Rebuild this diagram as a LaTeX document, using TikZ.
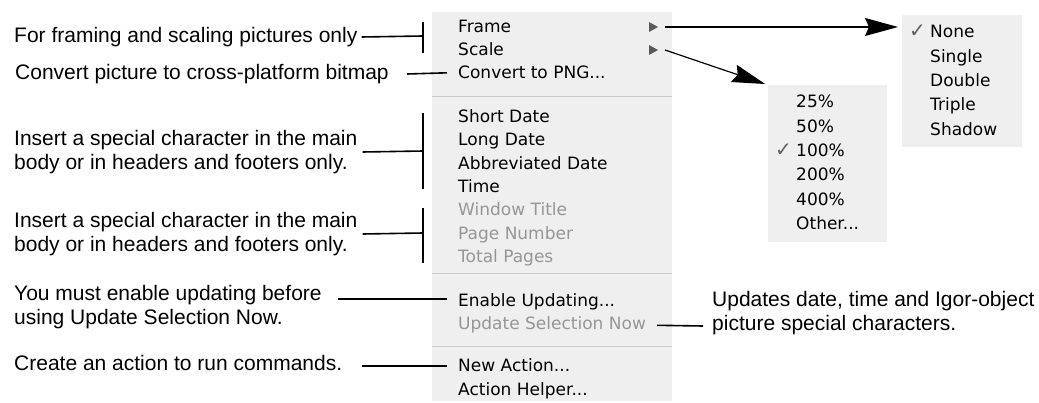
\documentclass[tikz,border=0pt]{standalone}
\usepackage{fontspec}
\setmainfont{Liberation Sans}
\newfontfamily\menufont{DejaVu Sans}
\usetikzlibrary{arrows.meta}
\definecolor{menubg}{RGB}{239,239,239}
\definecolor{menuoff}{RGB}{150,150,150}
\definecolor{menusep}{RGB}{200,200,200}
\definecolor{tickgray}{RGB}{95,95,95}

\begin{document}
\begin{tikzpicture}[x=1pt,y=-1pt,
	note/.style={anchor=west,inner sep=0pt,align=left,font=\fontsize{21}{24}\selectfont},
	item/.style={anchor=base west,inner xsep=11pt,inner ysep=0pt,font=\menufont\fontsize{17}{20}\selectfont},
	off/.style={item,text=menuoff},
	sub/.style={anchor=base west,inner sep=0pt,font=\menufont\fontsize{17}{20}\selectfont},
	tick/.style={anchor=base west,inner sep=0pt,text=tickgray,font=\menufont\fontsize{20}{20}\selectfont},
	panel/.style={fill=menubg,anchor=north west,inner sep=0pt},
	pointer/.style={line width=1.6pt},
	bigarrow/.style={-{Stealth[length=33pt,width=18pt,inset=4pt]}}]
	\useasboundingbox (0,0) rectangle (1039,403);

	% main menu
	\fill[menubg] (432,12) rectangle (672,401);
	\draw[menusep] (432,96) -- (672,96);
	\draw[menusep] (432,273) -- (672,273);
	\draw[menusep] (432,346) -- (672,346);

	\node[item] (frame) at (447,33) {Frame};
	\node[item] (scale) at (447,56) {Scale};
	\node[item] (png) at (447,79) {Convert to PNG...};
	\node[item] (short) at (447,123) {Short Date};
	\node[item] (long) at (447,146) {Long Date};
	\node[item] (abbr) at (447,170) {Abbreviated Date};
	\node[item] (time) at (447,193) {Time};
	\node[off] (wtitle) at (447,216) {Window Title};
	\node[off] (pnum) at (447,240) {Page Number};
	\node[off] (tpages) at (447,263) {Total Pages};
	\node[item] (enable) at (447,307) {Enable Updating...};
	\node[off] (update) at (447,330) {Update Selection Now};
	\node[item] (newact) at (447,371) {New Action...};
	\node[item] (helper) at (447,395) {Action Helper...};

	\fill[black!65] (649,22) -- (658,27) -- (649,32) -- cycle;
	\fill[black!65] (649,45) -- (658,50) -- (649,55) -- cycle;
	\coordinate (frout) at (665,27);
	\coordinate (scout) at (665,50);

	% submenus
	\node[panel,minimum width=120pt,minimum height=132pt] (frsub) at (902,15) {};
	\node[tick] (tnone) at (909,38) {✓};
	\node[sub] (none) at (930,38) {None};
	\node[sub] (single) at (930,63) {Single};
	\node[sub] (double) at (930,87) {Double};
	\node[sub] (triple) at (930,111) {Triple};
	\node[sub] (shadow) at (930,136) {Shadow};

	\node[panel,minimum width=119pt,minimum height=157pt] (scsub) at (768,85) {};
	\node[sub] (p25) at (796,108) {25\%};
	\node[sub] (p50) at (796,133) {50\%};
	\node[tick] (tfull) at (775,157) {✓};
	\node[sub] (p100) at (796,157) {100\%};
	\node[sub] (p200) at (796,181) {200\%};
	\node[sub] (p400) at (796,206) {400\%};
	\node[sub] (other) at (796,230) {Other...};

	\draw[pointer,bigarrow,shorten >=4pt] (frout) -- (frout -| frsub.west);
	\draw[line width=1.2pt,bigarrow,shorten >=3pt] (scout) -- (scsub.north west);

	% notes
	\node[note] (n1) at (14,37) {For framing and scaling pictures only};
	\node[note] (n2) at (15,74) {Convert picture to cross-platform bitmap};
	\node[note] (n3) at (14,152) {Insert a special character in the main\\body or in headers and footers only.};
	\node[note] (n4) at (14,234) {Insert a special character in the main\\body or in headers and footers only.};
	\node[note] (n5) at (14,307) {You must enable updating before\\using Update Selection Now.};
	\node[note] (n6) at (14,363) {Create an action to run commands.};
	\node[note] (n7) at (712,313) {Updates date, time and Igor-object\\picture special characters.};

	\coordinate (k1) at (423,36);
	\coordinate (k3) at (423,151);
	\coordinate (k4) at (423,233);
	\coordinate (s2) at (407,74);
	\coordinate (s5) at (338,299);
	\coordinate (s6) at (362,366);
	\coordinate (s7) at (703,326);

	\draw[pointer] (423,22) -- (423,53);
	\draw[pointer] (423,113) -- (423,189);
	\draw[pointer] (423,208) -- (423,263);

	\draw[pointer] (n1.east) ++(4,0) -- (k1);
	\draw[pointer] (s2) -- (png.west);
	\draw[pointer] (n3.east) ++(5,0) -- (k3);
	\draw[pointer] (n4.east) ++(5,0) -- (k4);
	\draw[pointer] (s5) -- (s5 -| enable.west);
	\draw[pointer] (s6) -- (s6 -| newact.west);
	\draw[pointer] (update.east) -- (s7);
\end{tikzpicture}
\end{document}
